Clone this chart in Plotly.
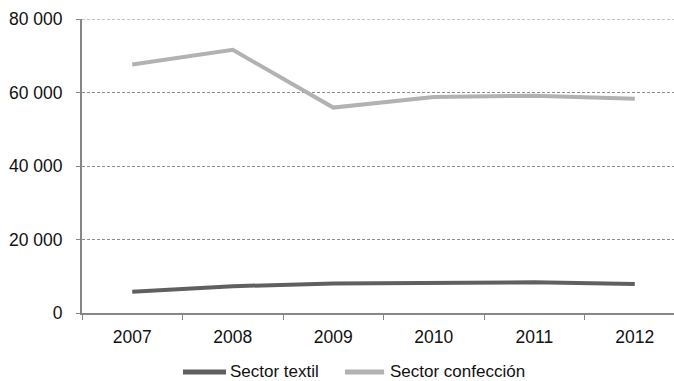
import plotly.graph_objects as go

years = ["2007", "2008", "2009", "2010", "2011", "2012"]
textil = [5800, 7300, 8000, 8300, 8350, 7900]
confeccion = [67600, 71600, 55900, 58800, 59100, 58300]
y_ticks = [0, 20000, 40000, 60000, 80000]
y_tick_text = ["0", "20 000", "40 000", "60 000", "80 000"]

FONT = "Liberation Sans, Arial, sans-serif"
AXIS_FONT_SIZE = 17.5
LEGEND_FONT_SIZE = 17
TEXT_COLOR = "#111111"
COLORS = {"Sector textil": "#606060", "Sector confección": "#b2b2b2"}

W, H = 674, 381
ML, MT, MB = 82, 19, 67.5
PW, PH = W - ML, H - MT - MB


def px_x(p):
    return (p - ML) / PW


def px_y(p):
    return (H - MB - p) / PH


fig = go.Figure()
for name, vals in (("Sector textil", textil), ("Sector confección", confeccion)):
    fig.add_trace(go.Scatter(
        x=years, y=vals, name=name, mode="lines",
        line=dict(color=COLORS[name], width=4),
    ))

# top gridline at 80 000 sits on the plot edge, draw it explicitly
fig.add_shape(type="line", xref="paper", yref="y", x0=0, x1=1, y0=80000, y1=80000,
              line=dict(color="#8c8c8c", width=1, dash="3px,2px"))

# legend below the axis: swatch + label
legend_items = [("Sector textil", 183, 226, 228), ("Sector confección", 345, 384, 388)]
ly = px_y(372.5)
for name, s0, s1, tx in legend_items:
    fig.add_shape(type="line", xref="paper", yref="paper",
                  x0=px_x(s0), x1=px_x(s1), y0=ly, y1=ly,
                  line=dict(color=COLORS[name], width=5))
    fig.add_annotation(text=name, xref="paper", yref="paper", x=px_x(tx), y=ly,
                       xanchor="left", yanchor="middle", showarrow=False,
                       font=dict(family=FONT, size=LEGEND_FONT_SIZE, color=TEXT_COLOR))

fig.update_layout(
    width=W, height=H,
    margin=dict(l=ML, r=0, t=MT, b=MB, autoexpand=False),
    paper_bgcolor="white", plot_bgcolor="white",
    font=dict(family=FONT, size=AXIS_FONT_SIZE, color=TEXT_COLOR),
    showlegend=False,
    xaxis=dict(
        type="category", range=[-0.5, 5.39],
        showgrid=False, zeroline=False,
        showline=True, linecolor="#868686", linewidth=2,
        ticks="outside", tickson="boundaries", ticklen=5, tickwidth=1,
        tickcolor="#868686",
        ticklabelstandoff=7,
        tickfont=dict(family=FONT, size=AXIS_FONT_SIZE, color=TEXT_COLOR),
    ),
    yaxis=dict(
        range=[0, 80000], tickvals=y_ticks, ticktext=y_tick_text,
        showgrid=True, gridcolor="#8c8c8c", gridwidth=1, griddash="3px,2px",
        zeroline=False,
        showline=True, linecolor="#868686", linewidth=2,
        ticks="outside", ticklen=4, tickwidth=1, tickcolor="#868686",
        ticklabelstandoff=10,
        tickfont=dict(family=FONT, size=AXIS_FONT_SIZE, color=TEXT_COLOR),
    ),
)

fig.write_html("out.html")
